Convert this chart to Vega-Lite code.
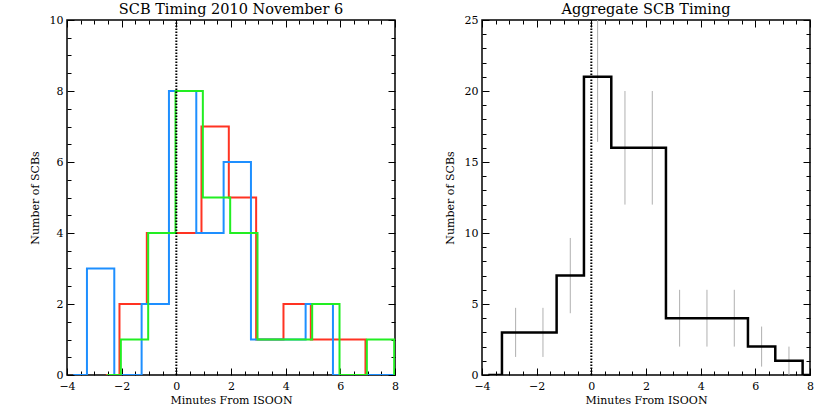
{
  "$schema": "https://vega.github.io/schema/vega-lite/v6.json",
  "background": "white",
  "padding": {"left": 28, "top": 0, "right": 20, "bottom": 3},
  "spacing": 87,
  "bounds": "flush",
  "config": {
    "view": {"stroke": "black", "strokeWidth": 1.5},
    "font": "DejaVu Serif",
    "title": {"font": "DejaVu Serif", "fontSize": 14.5, "fontWeight": "normal", "color": "black", "offset": -3, "frame": "group"},
    "axis": {
      "labelFont": "DejaVu Serif", "labelFontSize": 11, "labelColor": "black",
      "titleFont": "DejaVu Serif", "titleFontSize": 11, "titleFontWeight": "normal", "titleColor": "black",
      "tickColor": "black", "tickWidth": 1, "domain": false, "grid": false,
      "labelOverlap": false, "labelFlush": false, "format": "d"
    }
  },
  "datasets": {
    "runs": [
      {"series": "red", "minutes": -2.58, "count": 0},
      {"series": "red", "minutes": -2.08, "count": 2},
      {"series": "red", "minutes": -1.08, "count": 4},
      {"series": "red", "minutes": -0.08, "count": 4},
      {"series": "red", "minutes": 0.92, "count": 7},
      {"series": "red", "minutes": 1.92, "count": 5},
      {"series": "red", "minutes": 2.92, "count": 1},
      {"series": "red", "minutes": 3.92, "count": 2},
      {"series": "red", "minutes": 4.92, "count": 1},
      {"series": "red", "minutes": 5.92, "count": 1},
      {"series": "red", "minutes": 6.92, "count": 0},
      {"series": "red", "minutes": 7.42, "count": 0},
      {"series": "blue", "minutes": -3.77, "count": 0},
      {"series": "blue", "minutes": -3.27, "count": 3},
      {"series": "blue", "minutes": -2.27, "count": 0},
      {"series": "blue", "minutes": -1.27, "count": 2},
      {"series": "blue", "minutes": -0.27, "count": 8},
      {"series": "blue", "minutes": 0.73, "count": 4},
      {"series": "blue", "minutes": 1.73, "count": 6},
      {"series": "blue", "minutes": 2.73, "count": 1},
      {"series": "blue", "minutes": 3.73, "count": 1},
      {"series": "blue", "minutes": 4.73, "count": 2},
      {"series": "blue", "minutes": 5.73, "count": 0},
      {"series": "blue", "minutes": 6.73, "count": 0},
      {"series": "blue", "minutes": 7.73, "count": 0},
      {"series": "blue", "minutes": 8.23, "count": 0},
      {"series": "green", "minutes": -2.53, "count": 0},
      {"series": "green", "minutes": -2.03, "count": 1},
      {"series": "green", "minutes": -1.03, "count": 4},
      {"series": "green", "minutes": -0.03, "count": 8},
      {"series": "green", "minutes": 0.97, "count": 5},
      {"series": "green", "minutes": 1.97, "count": 4},
      {"series": "green", "minutes": 2.97, "count": 1},
      {"series": "green", "minutes": 3.97, "count": 1},
      {"series": "green", "minutes": 4.97, "count": 2},
      {"series": "green", "minutes": 5.97, "count": 0},
      {"series": "green", "minutes": 6.97, "count": 1},
      {"series": "green", "minutes": 7.97, "count": 0},
      {"series": "green", "minutes": 8.47, "count": 0}
    ],
    "aggregate": [
      {"minutes": -3.77, "count": 0},
      {"minutes": -3.27, "count": 3},
      {"minutes": -2.27, "count": 3},
      {"minutes": -1.27, "count": 7},
      {"minutes": -0.27, "count": 21},
      {"minutes": 0.73, "count": 16},
      {"minutes": 1.73, "count": 16},
      {"minutes": 2.73, "count": 4},
      {"minutes": 3.73, "count": 4},
      {"minutes": 4.73, "count": 4},
      {"minutes": 5.73, "count": 2},
      {"minutes": 6.73, "count": 1},
      {"minutes": 7.73, "count": 0},
      {"minutes": 8.23, "count": 0}
    ],
    "errors": [
      {"minutes": -2.77, "low": 1.27, "high": 4.73},
      {"minutes": -1.77, "low": 1.27, "high": 4.73},
      {"minutes": -0.77, "low": 4.35, "high": 9.65},
      {"minutes": 0.23, "low": 16.42, "high": 25.58},
      {"minutes": 1.23, "low": 12, "high": 20},
      {"minutes": 2.23, "low": 12, "high": 20},
      {"minutes": 3.23, "low": 2, "high": 6},
      {"minutes": 4.23, "low": 2, "high": 6},
      {"minutes": 5.23, "low": 2, "high": 6},
      {"minutes": 6.23, "low": 0.59, "high": 3.41},
      {"minutes": 7.23, "low": 0, "high": 2}
    ],
    "zeroLeft": [{"minutes": 0, "low": 0, "high": 10}],
    "zeroRight": [{"minutes": 0, "low": 0, "high": 25}]
  },
  "hconcat": [
    {
      "width": 328,
      "height": 355,
      "title": {"text": "SCB Timing 2010 November 6"},
      "layer": [
        {
          "data": {"name": "runs"},
          "mark": {"type": "line", "interpolate": "step-after", "strokeWidth": 2, "clip": true},
          "encoding": {
            "x": {"field": "minutes", "type": "quantitative",
              "scale": {"domain": [-4, 8], "nice": false, "zero": false},
              "axis": {"orient": "bottom", "title": "Minutes From ISOON", "titlePadding": 0,
                "values": [-4,-3.5,-3,-2.5,-2,-1.5,-1,-0.5,0,0.5,1,1.5,2,2.5,3,3.5,4,4.5,5,5.5,6,6.5,7,7.5,8],
                "labelExpr": "datum.value % 2 === 0 ? datum.label : ''",
                "tickSize": {"condition": {"test": "datum.value % 2 === 0", "value": -7}, "value": -4},
                "labelPadding": 12}},
            "y": {"field": "count", "type": "quantitative",
              "scale": {"domain": [0, 10], "nice": false},
              "axis": {"orient": "left", "title": "Number of SCBs", "titlePadding": 9,
                "values": [0,0.5,1,1.5,2,2.5,3,3.5,4,4.5,5,5.5,6,6.5,7,7.5,8,8.5,9,9.5,10],
                "labelExpr": "datum.value % 2 === 0 ? datum.label : ''",
                "tickSize": {"condition": {"test": "datum.value % 2 === 0", "value": -7}, "value": -4},
                "labelPadding": 11}},
            "color": {"field": "series", "type": "nominal",
              "scale": {"domain": ["red", "blue", "green"], "range": ["#ff3322", "#1e8fff", "#22ee22"]},
              "legend": null}
          }
        },
        {
          "data": {"name": "runs"},
          "mark": {"type": "line", "opacity": 0},
          "encoding": {
            "x": {"field": "minutes", "type": "quantitative",
              "axis": {"orient": "top", "title": null, "labels": false,
                "values": [-4,-3.5,-3,-2.5,-2,-1.5,-1,-0.5,0,0.5,1,1.5,2,2.5,3,3.5,4,4.5,5,5.5,6,6.5,7,7.5,8],
                "tickSize": {"condition": {"test": "datum.value % 2 === 0", "value": -7}, "value": -4}}},
            "y": {"field": "count", "type": "quantitative",
              "axis": {"orient": "right", "title": null, "labels": false,
                "values": [0,0.5,1,1.5,2,2.5,3,3.5,4,4.5,5,5.5,6,6.5,7,7.5,8,8.5,9,9.5,10],
                "tickSize": {"condition": {"test": "datum.value % 2 === 0", "value": -7}, "value": -4}}},
            "detail": {"field": "series", "type": "nominal"}
          }
        },
        {
          "data": {"name": "zeroLeft"},
          "mark": {"type": "rule", "color": "black", "strokeWidth": 2, "strokeDash": [1.5, 1.5]},
          "encoding": {
            "x": {"field": "minutes", "type": "quantitative", "axis": null},
            "y": {"field": "low", "type": "quantitative", "axis": null},
            "y2": {"field": "high"}
          }
        }
      ],
      "resolve": {"axis": {"x": "independent", "y": "independent"}}
    },
    {
      "width": 328,
      "height": 355,
      "title": {"text": "Aggregate SCB Timing"},
      "layer": [
        {
          "data": {"name": "errors"},
          "mark": {"type": "rule", "color": "#b0b0b0", "strokeWidth": 1, "clip": true},
          "encoding": {
            "x": {"field": "minutes", "type": "quantitative", "axis": null,
              "scale": {"domain": [-4, 8], "nice": false, "zero": false}},
            "y": {"field": "low", "type": "quantitative", "axis": null,
              "scale": {"domain": [0, 25], "nice": false}},
            "y2": {"field": "high"}
          }
        },
        {
          "data": {"name": "aggregate"},
          "mark": {"type": "line", "interpolate": "step-after", "strokeWidth": 2.5, "color": "black", "clip": true},
          "encoding": {
            "x": {"field": "minutes", "type": "quantitative",
              "axis": {"orient": "bottom", "title": "Minutes From ISOON", "titlePadding": 0,
                "values": [-4,-3.5,-3,-2.5,-2,-1.5,-1,-0.5,0,0.5,1,1.5,2,2.5,3,3.5,4,4.5,5,5.5,6,6.5,7,7.5,8],
                "labelExpr": "datum.value % 2 === 0 ? datum.label : ''",
                "tickSize": {"condition": {"test": "datum.value % 2 === 0", "value": -7}, "value": -4},
                "labelPadding": 12}},
            "y": {"field": "count", "type": "quantitative",
              "axis": {"orient": "left", "title": "Number of SCBs", "titlePadding": 9,
                "values": [0,1,2,3,4,5,6,7,8,9,10,11,12,13,14,15,16,17,18,19,20,21,22,23,24,25],
                "labelExpr": "datum.value % 5 === 0 ? datum.label : ''",
                "tickSize": {"condition": {"test": "datum.value % 5 === 0", "value": -7}, "value": -4},
                "labelPadding": 11}}
          }
        },
        {
          "data": {"name": "aggregate"},
          "mark": {"type": "line", "opacity": 0},
          "encoding": {
            "x": {"field": "minutes", "type": "quantitative",
              "axis": {"orient": "top", "title": null, "labels": false,
                "values": [-4,-3.5,-3,-2.5,-2,-1.5,-1,-0.5,0,0.5,1,1.5,2,2.5,3,3.5,4,4.5,5,5.5,6,6.5,7,7.5,8],
                "tickSize": {"condition": {"test": "datum.value % 2 === 0", "value": -7}, "value": -4}}},
            "y": {"field": "count", "type": "quantitative",
              "axis": {"orient": "right", "title": null, "labels": false,
                "values": [0,1,2,3,4,5,6,7,8,9,10,11,12,13,14,15,16,17,18,19,20,21,22,23,24,25],
                "tickSize": {"condition": {"test": "datum.value % 5 === 0", "value": -7}, "value": -4}}}
          }
        },
        {
          "data": {"name": "zeroRight"},
          "mark": {"type": "rule", "color": "black", "strokeWidth": 2, "strokeDash": [1.5, 1.5]},
          "encoding": {
            "x": {"field": "minutes", "type": "quantitative", "axis": null},
            "y": {"field": "low", "type": "quantitative", "axis": null},
            "y2": {"field": "high"}
          }
        }
      ],
      "resolve": {"axis": {"x": "independent", "y": "independent"}}
    }
  ]
}
